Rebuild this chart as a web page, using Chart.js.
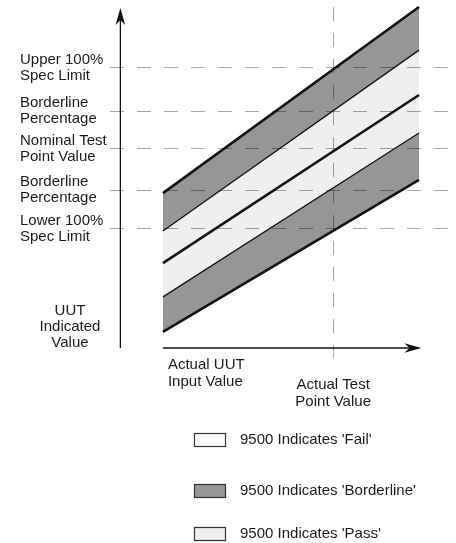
<!DOCTYPE html>
<html>
<head>
<meta charset="utf-8">
<script src="https://cdn.jsdelivr.net/npm/chart.js@4/dist/chart.umd.min.js"></script>
<style>
    html, body { margin: 0; padding: 0; background: #fff; }
    #wrap { width: 456px; height: 543px; position: relative; }
</style>
</head>
<body>
<div id="wrap"><canvas id="chart"></canvas></div>
<script>
/* ============================================================
   DATA
============================================================ */
const bandX = [15.3, 89.3];            // input range covered by the bands
const upperFailLine = [44.5, 98.0];    // upper 100% limit line
const upperBorderLine = [33.6, 85.6];  // upper borderline line
const nominalLine = [24.4, 72.7];      // nominal line
const lowerBorderLine = [14.7, 61.8];  // lower borderline line
const lowerFailLine = [4.6, 48.3];     // lower 100% limit line

const specValues = [80.5, 68.1, 57.2, 45.4, 34.2];
const specLabels = [
    ["Upper 100%", "Spec Limit"],
    ["Borderline", "Percentage"],
    ["Nominal Test", "Point Value"],
    ["Borderline", "Percentage"],
    ["Lower 100%", "Spec Limit"]
];
const testPoint = 64.5;
const yAxisAt = 3.0;
const yAxisTop = 97.7;
const xAxisEnd = 90;

const yTitle = ["UUT", "Indicated", "Value"];
const xStartLabel = ["Actual UUT", "Input Value"];
const xTestLabel = ["Actual Test", "Point Value"];
const legendLabels = ["9500 Indicates 'Fail'", "9500 Indicates 'Borderline'", "9500 Indicates 'Pass'"];

/* ============================================================
   STYLE
============================================================ */
const DARK = "#969696";
const LIGHT = "#efefef";
const INK = "#141414";
const TEXT = "#1c1c1c";
const DASH = "rgba(0,0,0,0.34)";
const FONT = '15px "Liberation Sans", Arial, sans-serif';

Chart.defaults.font.family = '"Liberation Sans", Arial, sans-serif';
Chart.defaults.font.size = 15;
Chart.defaults.color = TEXT;

function lineSet(label, ys, width, fill, bg) {
    return {
        label: label,
        data: bandX.map((x, i) => ({ x: x, y: ys[i] })),
        borderColor: INK,
        borderWidth: width,
        backgroundColor: bg,
        fill: fill,
        pointRadius: 0,
        tension: 0,
        borderCapStyle: "butt"
    };
}

/* ============================================================
   DECORATIONS (axes arrows, texts, legend)
============================================================ */
function arrowHead(ctx, tx, ty, dx, dy) {
    const len = 17, half = 4.8, notch = 12;
    const nx = -dy, ny = dx;
    ctx.beginPath();
    ctx.moveTo(tx, ty);
    ctx.lineTo(tx - dx * len + nx * half, ty - dy * len + ny * half);
    ctx.lineTo(tx - dx * notch, ty - dy * notch);
    ctx.lineTo(tx - dx * len - nx * half, ty - dy * len - ny * half);
    ctx.closePath();
    ctx.fill();
}

const decorations = {
    id: "decorations",
    afterDraw(chart) {
        const { ctx, scales: { x, y } } = chart;
        const ax = x.getPixelForValue(yAxisAt);
        const ay0 = y.getPixelForValue(0);
        const ayTop = y.getPixelForValue(yAxisTop);
        const bx0 = x.getPixelForValue(bandX[0]);
        const bxEnd = x.getPixelForValue(xAxisEnd);
        const tx = x.getPixelForValue(testPoint);

        ctx.save();
        ctx.strokeStyle = INK;
        ctx.fillStyle = INK;
        ctx.lineWidth = 1.3;

        // y axis
        ctx.beginPath();
        ctx.moveTo(ax, ay0);
        ctx.lineTo(ax, ayTop + 10);
        ctx.stroke();
        arrowHead(ctx, ax, ayTop, 0, -1);

        // x axis
        ctx.beginPath();
        ctx.moveTo(bx0, ay0);
        ctx.lineTo(bxEnd - 10, ay0);
        ctx.stroke();
        arrowHead(ctx, bxEnd, ay0, 1, 0);

        // texts
        ctx.font = FONT;
        ctx.fillStyle = TEXT;
        ctx.textBaseline = "middle";

        ctx.textAlign = "center";
        yTitle.forEach((t, i) => ctx.fillText(t, 70, ay0 - 37 + i * 16));

        ctx.textAlign = "left";
        xStartLabel.forEach((t, i) => ctx.fillText(t, bx0 + 5, ay0 + 17 + i * 16.5));

        ctx.textAlign = "center";
        xTestLabel.forEach((t, i) => ctx.fillText(t, tx, ay0 + 37 + i * 16.5));

        // legend
        const boxColors = ["#ffffff", DARK, LIGHT];
        const tops = [433, 484, 527];
        ctx.textAlign = "left";
        legendLabels.forEach((label, i) => {
            ctx.fillStyle = boxColors[i];
            ctx.fillRect(194, tops[i], 32, 14);
            ctx.strokeStyle = "#333";
            ctx.lineWidth = 1.2;
            ctx.strokeRect(194.5, tops[i] + 0.5, 31, 13);
            ctx.fillStyle = TEXT;
            ctx.fillText(label, 240, tops[i] + 7);
        });
        ctx.restore();
    }
};

/* ============================================================
   CHART
============================================================ */
const chart = new Chart(document.getElementById("chart"), {
    type: "line",
    data: {
        datasets: [
            lineSet("Upper 100% limit", upperFailLine, 2.6, "+1", DARK),
            lineSet("Upper borderline", upperBorderLine, 1.3, "+1", LIGHT),
            lineSet("Nominal", nominalLine, 2.6, "+1", LIGHT),
            lineSet("Lower borderline", lowerBorderLine, 1.3, "+1", DARK),
            lineSet("Lower 100% limit", lowerFailLine, 2.6, false, DARK)
        ]
    },
    options: {
        responsive: true,
        maintainAspectRatio: false,
        animation: false,
        layout: { padding: { left: 20, top: 0, right: 0, bottom: 0 } },
        plugins: {
            legend: { display: false },
            tooltip: { enabled: false },
            filler: { drawTime: "beforeDatasetsDraw" }
        },
        scales: {
            x: {
                type: "linear",
                min: 0,
                max: 100,
                afterBuildTicks: scale => { scale.ticks = [{ value: testPoint }]; },
                afterFit: scale => {
                    scale.height = 195;
                    scale.paddingLeft = 0;
                    scale.paddingRight = 0;
                },
                ticks: { display: false },
                grid: {
                    z: 1,
                    color: DASH,
                    lineWidth: 1,
                    drawTicks: true,
                    tickLength: 17,
                    tickColor: DASH,
                    tickBorderDash: [14, 13],
                    tickBorderDashOffset: 4
                },
                border: { display: false, dash: [14, 12], dashOffset: 19 }
            },
            y: {
                type: "linear",
                min: 0,
                max: 100,
                afterBuildTicks: scale => {
                    scale.ticks = specValues.map(v => ({ value: v }));
                },
                afterFit: scale => {
                    scale.width = 90;
                    scale.paddingTop = 0;
                    scale.paddingBottom = 0;
                },
                ticks: {
                    crossAlign: "far",
                    padding: 0,
                    font: { size: 15, lineHeight: "16px" },
                    callback: (value, index) => specLabels[index]
                },
                grid: {
                    z: 1,
                    color: DASH,
                    lineWidth: 1,
                    drawTicks: false
                },
                border: { display: false, dash: [14, 13] }
            }
        }
    },
    plugins: [decorations]
});
</script>
</body>
</html>
